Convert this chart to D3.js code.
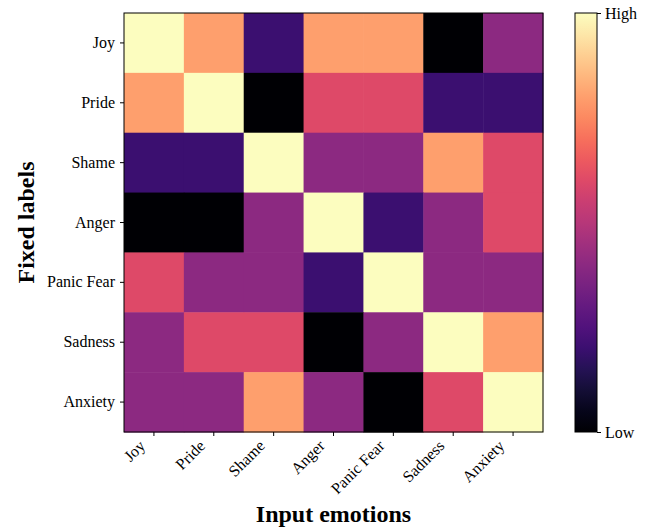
<!DOCTYPE html>
<html>
<head>
<meta charset="utf-8">
<script src="https://cdn.jsdelivr.net/npm/d3@7"></script>
<style>
  body { margin: 0; background: #fff; }
</style>
</head>
<body>
<svg id="chart"></svg>
<script>
const inputEmotions = ["Joy", "Pride", "Shame", "Anger", "Panic Fear", "Sadness", "Anxiety"];
const fixedLabels = ["Joy", "Pride", "Shame", "Anger", "Panic Fear", "Sadness", "Anxiety"];
// similarity level per row (fixed label) and column (input emotion), 0 = low, 5 = high
const joyRow     = [5, 4, 1, 4, 4, 0, 2];
const prideRow   = [4, 5, 0, 3, 3, 1, 1];
const shameRow   = [1, 1, 5, 2, 2, 4, 3];
const angerRow   = [0, 0, 2, 5, 1, 2, 3];
const panicRow   = [3, 2, 2, 1, 5, 2, 2];
const sadnessRow = [2, 3, 3, 0, 2, 5, 4];
const anxietyRow = [2, 2, 4, 2, 0, 3, 5];
const colorbarTicks = ["Low", "High"];

const matrix = [joyRow, prideRow, shameRow, angerRow, panicRow, sadnessRow, anxietyRow];

const FONT = "'Liberation Serif', 'Times New Roman', serif";
const width = 649, height = 527;
const margin = {top: 13, left: 124};
const plotW = 419, plotH = 419;

const svg = d3.select("#chart").attr("width", width).attr("height", height)
    .attr("font-family", FONT);

const x = d3.scaleBand().domain(inputEmotions).range([margin.left, margin.left + plotW]);
const y = d3.scaleBand().domain(fixedLabels).range([margin.top, margin.top + plotH]);
const color = d3.scaleSequential(d3.interpolateMagma).domain([0, 5]);

const cells = [];
matrix.forEach((row, i) => row.forEach((v, j) => cells.push({row: fixedLabels[i], col: inputEmotions[j], value: v})));

svg.append("g").selectAll("rect")
    .data(cells)
    .join("rect")
    .attr("x", d => x(d.col))
    .attr("y", d => y(d.row))
    .attr("width", x.bandwidth() + 0.5)
    .attr("height", y.bandwidth() + 0.5)
    .attr("fill", d => color(d.value));

// frame
svg.append("rect")
    .attr("x", margin.left).attr("y", margin.top)
    .attr("width", plotW).attr("height", plotH)
    .attr("fill", "none").attr("stroke", "#000").attr("stroke-width", 1);

const xAxis = svg.append("g")
    .attr("transform", `translate(0, ${margin.top + plotH})`)
    .call(d3.axisBottom(x).tickSize(4).tickSizeOuter(0));
xAxis.select(".domain").remove();
xAxis.selectAll("text")
    .attr("font-family", FONT)
    .style("font-size", "16px")
    .attr("text-anchor", "end")
    .attr("dy", 0)
    .attr("transform", "rotate(-45)")
    .attr("x", -16).attr("y", 5);

const yAxis = svg.append("g")
    .attr("transform", `translate(${margin.left}, 0)`)
    .call(d3.axisLeft(y).tickSize(4).tickSizeOuter(0));
yAxis.select(".domain").remove();
yAxis.selectAll("text").attr("font-family", FONT).style("font-size", "16px").attr("x", -9);

svg.append("text")
    .attr("x", margin.left + plotW / 2)
    .attr("y", 522)
    .attr("text-anchor", "middle")
    .attr("font-family", FONT)
    .style("font-size", "24px").style("font-weight", "bold")
    .text("Input emotions");

svg.append("text")
    .attr("transform", `translate(34, ${margin.top + plotH / 2}) rotate(-90)`)
    .attr("text-anchor", "middle")
    .attr("font-family", FONT)
    .style("font-size", "24px").style("font-weight", "bold")
    .text("Fixed labels");

// colorbar
const cbX = 575, cbW = 22;
const defs = svg.append("defs");
const grad = defs.append("linearGradient").attr("id", "cb")
    .attr("x1", 0).attr("y1", 1).attr("x2", 0).attr("y2", 0);
d3.range(0, 1.0001, 0.05).forEach(t => {
    grad.append("stop").attr("offset", t).attr("stop-color", d3.interpolateMagma(t));
});
svg.append("rect")
    .attr("x", cbX).attr("y", margin.top)
    .attr("width", cbW).attr("height", plotH)
    .attr("fill", "url(#cb)").attr("stroke", "#000").attr("stroke-width", 1);

const cbScale = d3.scalePoint().domain(colorbarTicks).range([margin.top + plotH, margin.top]);
const cbAxis = svg.append("g")
    .attr("transform", `translate(${cbX + cbW}, 0)`)
    .call(d3.axisRight(cbScale).tickSize(4).tickSizeOuter(0));
cbAxis.select(".domain").remove();
cbAxis.selectAll("text").attr("font-family", FONT).style("font-size", "16px").attr("x", 8);
</script>
</body>
</html>
